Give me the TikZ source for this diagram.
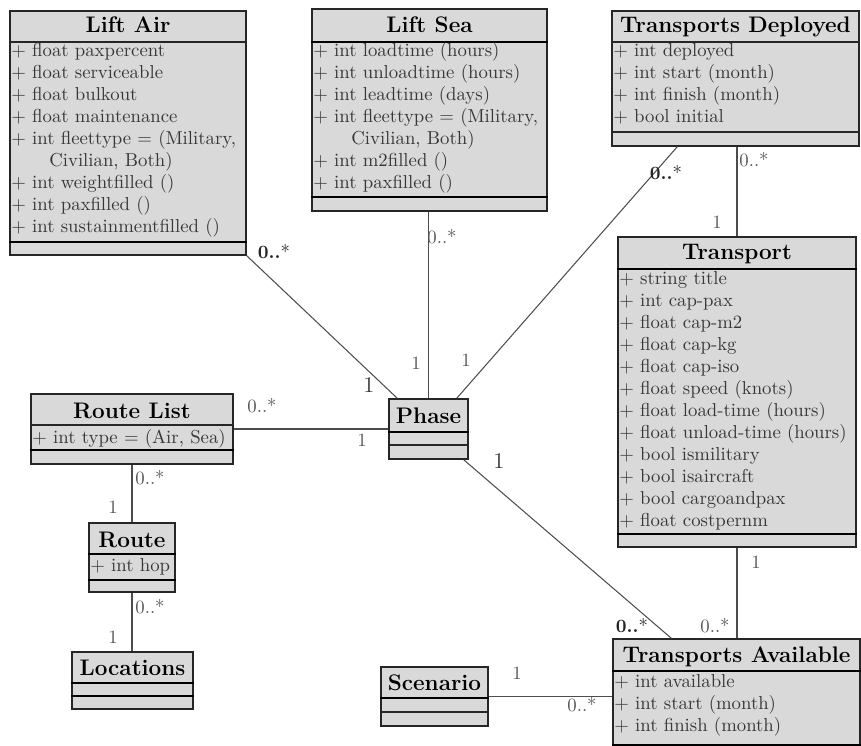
\documentclass[tikz,border=0pt]{standalone}
\usetikzlibrary{fit}

\definecolor{classfill}{RGB}{217,217,217}
\definecolor{attrtext}{RGB}{55,55,55}
\definecolor{multtext}{RGB}{85,85,85}

\tikzset{
  classbox/.style={rectangle, draw=black!85, fill=classfill, line width=0.7pt, inner sep=0pt},
  septhick/.style={draw=black, line width=1.4pt},
  septhin/.style={draw=black!85, line width=0.7pt},
  classtitle/.style={anchor=base, inner sep=0pt, font=\large\bfseries},
  attr/.style={anchor=base west, inner sep=0pt, text=attrtext},
  assoc/.style={draw=black!70, line width=0.55pt},
  mult/.style={inner sep=0pt, text=multtext},
  multstrong/.style={inner sep=0pt, text=black!85},
  onestrong/.style={inner sep=0pt, text=black!80, font=\large},
}

\begin{document}
\begin{tikzpicture}[x=0.5333pt, y=-0.5333pt]
  \useasboundingbox (0,0) rectangle (861,746);
  \clip (0,0) rectangle (861,746);
  \fill[white] (0,0) rectangle (861,746);

  % ---------- class boxes ----------
  \node[classbox, fit={(10,11) (246,255)}]   (liftair)   {};
  \node[classbox, fit={(312,9) (547,211)}]   (liftsea)   {};
  \node[classbox, fit={(612,11) (859,146)}]  (deployed)  {};
  \node[classbox, fit={(618,237) (856,547)}] (transport) {};
  \node[classbox, fit={(31,394) (233,464)}]  (routelist) {};
  \node[classbox, fit={(89,523) (175,592)}]  (route)     {};
  \node[classbox, fit={(72,652) (193,709)}]  (locations) {};
  \node[classbox, fit={(389,399) (468,459)}] (phase)     {};
  \node[classbox, fit={(381,667) (488,726)}] (scenario)  {};
  \node[classbox, fit={(613,639) (860,758)}] (available) {};

  % ---------- compartment separators ----------
  \draw[septhin]  (liftair.west |- 0,42)    -- (liftair.east |- 0,42);
  \draw[septhick] (liftair.west |- 0,242)   -- (liftair.east |- 0,242);
  \draw[septhick] (liftsea.west |- 0,42)    -- (liftsea.east |- 0,42);
  \draw[septhick] (liftsea.west |- 0,197)   -- (liftsea.east |- 0,197);
  \draw[septhin]  (deployed.west |- 0,42)   -- (deployed.east |- 0,42);
  \draw[septhin]  (deployed.west |- 0,132)  -- (deployed.east |- 0,132);
  \draw[septhick] (transport.west |- 0,269) -- (transport.east |- 0,269);
  \draw[septhick] (transport.west |- 0,534) -- (transport.east |- 0,534);
  \draw[septhin]  (routelist.west |- 0,425) -- (routelist.east |- 0,425);
  \draw[septhick] (routelist.west |- 0,450) -- (routelist.east |- 0,450);
  \draw[septhick] (route.west |- 0,554)     -- (route.east |- 0,554);
  \draw[septhick] (route.west |- 0,580)     -- (route.east |- 0,580);
  \draw[septhick] (locations.west |- 0,683) -- (locations.east |- 0,683);
  \draw[septhick] (locations.west |- 0,696) -- (locations.east |- 0,696);
  \draw[septhick] (phase.west |- 0,432)     -- (phase.east |- 0,432);
  \draw[septhin]  (phase.west |- 0,445)     -- (phase.east |- 0,445);
  \draw[septhick] (scenario.west |- 0,698)  -- (scenario.east |- 0,698);
  \draw[septhin]  (scenario.west |- 0,712)  -- (scenario.east |- 0,712);
  \draw[septhick] (available.west |- 0,671) -- (available.east |- 0,671);
  \draw[septhick] (available.west |- 0,745) -- (available.east |- 0,745);

  % ---------- associations ----------
  \draw[assoc] (liftair.south east) -- ([xshift=4.8pt]phase.north west);
  \draw[assoc] (phase.north |- liftsea.south) -- (phase.north);
  \draw[assoc] ([xshift=35.2pt]deployed.south west) -- ([xshift=-6.4pt]phase.north east);
  \draw[assoc] (transport.north |- deployed.south) -- (transport.north);
  \draw[assoc] (routelist.east) -- (phase.west);
  \draw[assoc] (routelist.south) -- (route.north);
  \draw[assoc] (route.south) -- (route.south |- locations.north);
  \draw[assoc] ([xshift=-2.7pt]phase.south east) -- ([xshift=31.5pt]available.north west);
  \draw[assoc] (transport.south) -- (transport.south |- available.north);
  \draw[assoc] (scenario.east) -- (scenario.east -| available.west);

  % ---------- class names ----------
  \node[classtitle] (liftairT)   at (128,33)    {Lift Air};
  \node[classtitle] (liftseaT)   at (429.5,33)  {Lift Sea};
  \node[classtitle] (deployedT)  at (735.5,33)  {Transports Deployed};
  \node[classtitle] (transportT) at (737,260)   {Transport};
  \node[classtitle] (routelistT) at (132,418)   {Route List};
  \node[classtitle] (routeT)     at (132,547)   {Route};
  \node[classtitle] (locationsT) at (132.5,675) {Locations};
  \node[classtitle] (phaseT)     at (428.5,423) {Phase};
  \node[classtitle] (scenarioT)  at (434.5,690) {Scenario};
  \node[classtitle] (availableT) at (736.5,662) {Transports Available};

  % ---------- attributes ----------
  % Lift Air
  \node[attr] (la1) at (11,57)  {$+$ float paxpercent};
  \node[attr] (la2) at (11,79)  {$+$ float serviceable};
  \node[attr] (la3) at (11,101) {$+$ float bulkout};
  \node[attr] (la4) at (11,123) {$+$ float maintenance};
  \node[attr] (la5) at (11,145) {$+$ int fleettype = (Military,};
  \node[attr] (la6) at (49,167) {Civilian, Both)};
  \node[attr] (la7) at (11,189) {$+$ int weightfilled ()};
  \node[attr] (la8) at (11,211) {$+$ int paxfilled ()};
  \node[attr] (la9) at (11,233) {$+$ int sustainmentfilled ()};

  % Lift Sea
  \node[attr] (ls1) at (313,57)  {$+$ int loadtime (hours)};
  \node[attr] (ls2) at (313,79)  {$+$ int unloadtime (hours)};
  \node[attr] (ls3) at (313,101) {$+$ int leadtime (days)};
  \node[attr] (ls4) at (313,123) {$+$ int fleettype = (Military,};
  \node[attr] (ls5) at (351,145) {Civilian, Both)};
  \node[attr] (ls6) at (313,167) {$+$ int m2filled ()};
  \node[attr] (ls7) at (313,189) {$+$ int paxfilled ()};

  % Transports Deployed
  \foreach \txt [count=\i from 0] in {int deployed, int start (month), int finish (month), bool initial}
    \node[attr] (td\i) at (613,57+22*\i) {$+$ \txt};

  % Transport
  \foreach \txt [count=\i from 0] in {string title, int cap-pax, float cap-m2, float cap-kg,
      float cap-iso, float speed (knots), float load-time (hours), float unload-time (hours),
      bool ismilitary, bool isaircraft, bool cargoandpax, float costpernm}
    \node[attr] (tr\i) at (619,284+22*\i) {$+$ \txt};

  % Transports Available
  \foreach \txt [count=\i from 0] in {int available, int start (month), int finish (month)}
    \node[attr] (ta\i) at (614,687+22*\i) {$+$ \txt};

  % Route List and Route
  \node[attr] (rl1) at (32,443) {$+$ int type = (Air, Sea)};
  \node[attr] (ro1) at (90,571) {$+$ int hop};

  % ---------- multiplicities ----------
  \node[multstrong] (m1a) at (274,252) {\textbf{0..}*};
  \node[onestrong]  (m1b) at (369,385) {1};
  \node[mult]       (m2a) at (442,237) {0..*};
  \node[mult]       (m2b) at (416,363) {1};
  \node[multstrong] (m3a) at (666,173) {\textbf{0..}*};
  \node[mult]       (m3b) at (466,360) {1};
  \node[mult]       (m4a) at (754,160) {0..*};
  \node[mult]       (m4b) at (717,222) {1};
  \node[mult]       (m5a) at (262,406) {0..*};
  \node[mult]       (m5b) at (362,440) {1};
  \node[mult]       (m6a) at (150,478) {0..*};
  \node[mult]       (m6b) at (113,507) {1};
  \node[mult]       (m7a) at (150,607) {0..*};
  \node[mult]       (m7b) at (113,637) {1};
  \node[onestrong]  (m8a) at (499,461) {1};
  \node[multstrong] (m8b) at (632,626) {\textbf{0..}*};
  \node[mult]       (m9a) at (756,562) {1};
  \node[mult]       (m9b) at (715,626) {0..*};
  \node[mult]       (m10a) at (517,673) {1};
  \node[mult]       (m10b) at (582,705) {0..*};
\end{tikzpicture}
\end{document}
